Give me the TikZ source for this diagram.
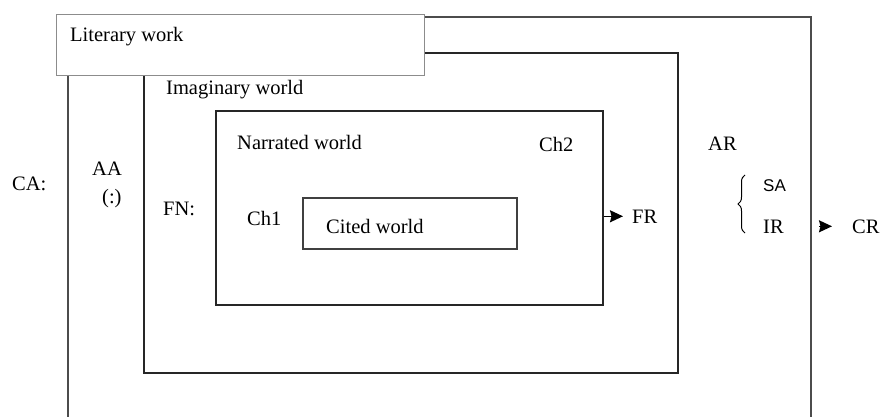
\documentclass[tikz,border=0pt]{standalone}
\usepackage{fontspec}
\setmainfont{Liberation Serif}
\newfontfamily\labelsans{Liberation Sans}
\usepackage{tikz}
\usetikzlibrary{arrows.meta,positioning,decorations.pathreplacing}

\begin{document}
\begin{tikzpicture}[
    x=1pt, y=-1pt,
    frame/.style={draw=black!85, line width=1.4pt, inner sep=0pt},
    txt/.style={font=\fontsize{20.5}{24}\selectfont, inner sep=0pt, anchor=base west},
    sans/.style={font=\labelsans\fontsize{17}{20}\selectfont, inner sep=0pt, anchor=base west},
    arr/.style={-{Stealth[length=13pt, width=12pt, inset=1.5pt]}, line width=1.4pt}
]
\useasboundingbox (0,0) rectangle (880,417);
\draw[black!70, line width=1.4pt] (68,417) |- (811,17) -- (811,417);
\node[frame, minimum width=534pt, minimum height=320pt] (imag) at (411,213) {};
\node[frame, minimum width=387pt, minimum height=194pt] (narr) at (409.5,208) {};
\node[frame, draw=black!75, minimum width=214pt, minimum height=51pt] (cited) at (410,223.5) {};
\node[frame, draw=black!45, line width=1pt, fill=white, minimum width=368pt, minimum height=61pt] (lit) at (240,45.5) {};
\node[txt] (litlbl) at (70,42) {Literary work};
\node[txt] (imaglbl) at (166,95) {Imaginary world};
\node[txt] (narrlbl) at (237,149) {Narrated world};
\node[txt] (citedlbl) at (326,233) {Cited world};
\node[txt] (ca) at (12,190) {CA:};
\node[txt] (aa) at (92,175) {AA};
\node[txt] (colon) at (102,203) {(:)};
\node[txt] (fn) at (163,215) {FN:};
\node[txt] (ch1) at (247,225) {Ch1};
\node[txt] (ch2) at (539,151) {Ch2};
\node[txt] (ar) at (708,150) {AR};
\node[txt] (fr) at (632,223) {FR};
\node[sans] (sa) at (763,191) {SA};
\node[txt] (ir) at (763,233) {IR};
\node[txt] (cr) at (852,233) {CR};
\draw[decorate, decoration={brace, amplitude=7pt}, line width=1pt] (745,233) -- (745,175);
\draw[arr, shorten >=9pt] (narr.east |- fr.west) -- (fr.west);
\coordinate (crtail) at ([xshift=-33pt]cr.west);
\draw[arr, shorten >=20pt] (crtail) -- (cr.west);
\end{tikzpicture}
\end{document}
